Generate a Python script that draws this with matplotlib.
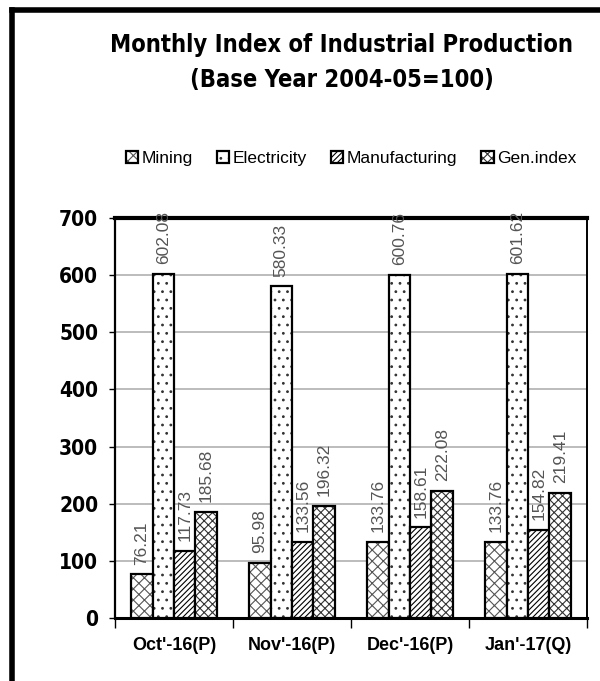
import numpy as np
import matplotlib.pyplot as plt
from matplotlib.lines import Line2D

months = ["Oct'-16(P)", "Nov'-16(P)", "Dec'-16(P)", "Jan'-17(Q)"]
series = ["Mining", "Electricity", "Manufacturing", "Gen.index"]
mining = [76.21, 95.98, 133.76, 133.76]
electricity = [602.08, 580.33, 600.76, 601.62]
manufacturing = [117.73, 133.56, 158.61, 154.82]
gen_index = [185.68, 196.32, 222.08, 219.41]
label_text = [["76.21", "95.98", "133.76", "133.76"],
              ["602.08", "580.33", "600.76", "601.62"],
              ["117.73", "133.56", "158.61", "154.82"],
              ["185.68", "196.32", "222.08", "219.41"]]

plt.rcParams['font.family'] = ["Liberation Sans", "DejaVu Sans"]
plt.rcParams['hatch.linewidth'] = 0.8

fig = plt.figure(figsize=(6, 6.81), dpi=100)
ax = fig.add_axes([0.1917, 0.0925, 0.7866, 0.5875])

x = np.arange(len(months))
w = 0.182
hatches = ["xxx", "..", "//////", "xxxx"]
hatch_cols = ["#555555", "#333333", "black", "#333333"]
data = [mining, electricity, manufacturing, gen_index]

for i, vals in enumerate(data):
    pos = x + (i - 1.5) * w
    bars = ax.bar(pos, vals, w, color="white", edgecolor="black", linewidth=1.6,
                  hatch=hatches[i], label=series[i], zorder=3)
    for b in bars:
        b._hatch_color = plt.matplotlib.colors.to_rgba(hatch_cols[i])
    for p, v, t in zip(pos, vals, label_text[i]):
        ax.annotate(t, (p, v), xytext=(0, 7), textcoords="offset points",
                    rotation=90, ha="center", va="bottom", fontsize=12.5,
                    color="#555555", annotation_clip=False, zorder=4)

ax.set_ylim(0, 700)
ax.set_xlim(-0.5, 3.5)
ax.set_yticks(range(0, 701, 100))
ax.yaxis.grid(True, color="#b0b0b0", linewidth=1.2, zorder=0)
ax.set_axisbelow(True)

ax.set_xticks(x)
ax.set_xticklabels(months, fontsize=13, fontweight="bold", fontstretch="condensed")
ax.set_xticks(np.arange(-0.5, 4.0, 1.0), minor=True)
ax.tick_params(axis="x", which="major", length=0, pad=14)
ax.tick_params(axis="x", which="minor", length=7, width=1, direction="out")
ax.tick_params(axis="y", length=4, width=1, pad=8, labelsize=15)
for lab in ax.get_yticklabels():
    lab.set_fontweight("bold")
    lab.set_family(["DejaVu Sans"])
    lab.set_fontstretch("condensed")

ax.spines["top"].set_linewidth(3)
ax.spines["left"].set_linewidth(1.6)
ax.spines["bottom"].set_linewidth(2.2)
ax.spines["right"].set_linewidth(1.4)

leg = ax.legend(loc="center", bbox_to_anchor=(0.5, 1.148), ncol=4, frameon=False,
                fontsize=12.5, handlelength=0.7, handleheight=0.7, handletextpad=0.2,
                columnspacing=1.4, borderaxespad=0)

fig.text(0.57, 0.934, "Monthly Index of Industrial Production", ha="center", va="center",
         fontsize=17, fontweight="bold", family=["DejaVu Sans"], fontstretch="condensed")
fig.text(0.57, 0.882, "(Base Year 2004-05=100)", ha="center", va="center",
         fontsize=17, fontweight="bold", family=["DejaVu Sans"], fontstretch="condensed")

# outer frame (top and left only)
fig.add_artist(Line2D([0.02, 1.0], [0.986, 0.986], color="black", linewidth=4,
                      transform=fig.transFigure))
fig.add_artist(Line2D([0.02, 0.02], [0.0, 0.986], color="black", linewidth=4,
                      transform=fig.transFigure))

fig.savefig("out.png", dpi=100, facecolor="white")
